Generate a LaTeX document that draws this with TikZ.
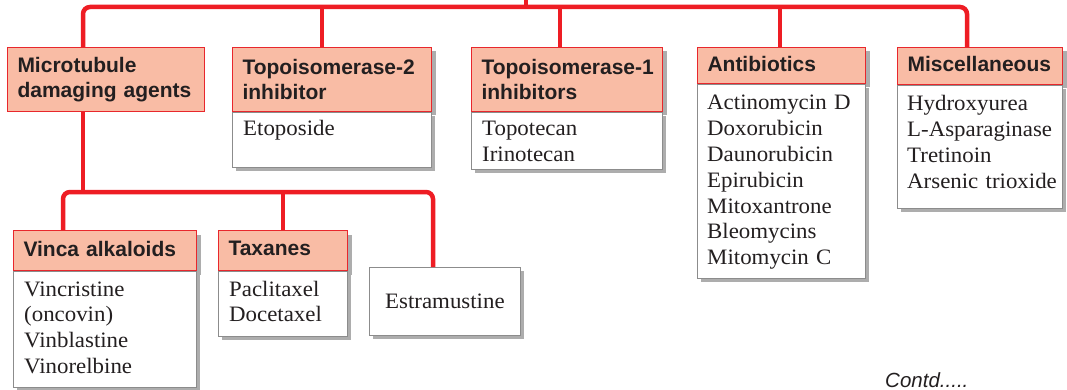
\documentclass[tikz,border=0pt]{standalone}
\usepackage{fontspec}
\setmainfont{Liberation Serif}[FakeStretch=1.04]
\newfontfamily\hdrfont{Liberation Sans}
\usetikzlibrary{shadows,calc}
\definecolor{hdrfill}{HTML}{F9BCA5}
\definecolor{hdrline}{HTML}{E8272C}
\definecolor{connred}{HTML}{EE1D24}
\definecolor{txt}{HTML}{231F20}
\tikzset{
  shad/.style={drop shadow={shadow xshift=4pt, shadow yshift=-4pt, fill=black!32, opacity=1}},
  hdr/.style={draw=hdrline, line width=1pt, fill=hdrfill, anchor=north west,
    inner xsep=0pt, inner ysep=0pt, align=left, text=txt,
    font=\hdrfont\bfseries\fontsize{21}{25}\selectfont,
    execute at begin node={\leftskip=10pt\relax\hyphenpenalty=10000\exhyphenpenalty=10000\relax}},
  onehdr/.style={hdr, text depth=4pt},
  bodybox/.style={draw=black!45, line width=0.8pt, fill=white, anchor=north west, inner sep=0pt},
  bodytext/.style={anchor=base west, inner sep=0pt, align=left, text width=170pt, text=txt,
    font=\fontsize{22}{25.8}\selectfont},
  conn/.style={draw=connred, line width=4.5pt, rounded corners=7pt}
}
\begin{document}
\begin{tikzpicture}[x=1pt,y=-1pt]
\useasboundingbox (0,0) rectangle (1067,390);

% top row
\node[hdr, text width=197pt, minimum height=64pt] (mt) at (7,47) {Microtubule\\damaging agents};

\node[hdr, shad, text width=199pt, minimum height=64pt] (t2) at (232,47) {Topoisomerase-2\\inhibitor};
\node[bodybox, shad, minimum width=199pt, minimum height=55pt] (t2b) at (t2.south west) {};
\node[bodytext] (t2t) at ($(t2b.north west)+(11,24)$) {Etoposide};

\node[hdr, shad, text width=191pt, minimum height=64pt] (t1) at (471,47) {Topoisomerase-1\\inhibitors};
\node[bodybox, shad, minimum width=191pt, minimum height=57pt] (t1b) at (t1.south west) {};
\node[bodytext] (t1t) at ($(t1b.north west)+(11,24)$) {Topotecan\\Irinotecan};

\node[onehdr, shad, text width=168pt, minimum height=36pt] (ab) at (697,47) {Antibiotics};
\node[bodybox, shad, minimum width=168pt, minimum height=194pt] (abb) at (ab.south west) {};
\node[bodytext] (abt) at ($(abb.north west)+(10,26)$) {Actinomycin D\\Doxorubicin\\Daunorubicin\\Epirubicin\\Mitoxantrone\\Bleomycins\\Mitomycin C};

\node[onehdr, shad, text width=165pt, minimum height=37pt] (ms) at (897,47) {Miscellaneous};
\node[bodybox, shad, minimum width=165pt, minimum height=123pt] (msb) at (ms.south west) {};
\node[bodytext] (mst) at ($(msb.north west)+(10,26)$) {Hydroxyurea\\L-Asparaginase\\Tretinoin\\Arsenic trioxide};

% bottom row
\node[onehdr, shad, text width=183pt, minimum height=40pt] (vh) at (13,230) {Vinca alkaloids};
\node[bodybox, shad, minimum width=183pt, minimum height=116pt] (vhb) at (vh.south west) {};
\node[bodytext] (vht) at ($(vhb.north west)+(11,25)$) {Vincristine\\(oncovin)\\Vinblastine\\Vinorelbine};

\node[onehdr, shad, text width=129pt, minimum height=40pt] (tx) at (218,230) {Taxanes};
\node[bodybox, shad, minimum width=129pt, minimum height=65pt] (txb) at (tx.south west) {};
\node[bodytext] (txt) at ($(txb.north west)+(11,25)$) {Paclitaxel\\Docetaxel};

\node[bodybox, shad, minimum width=151pt, minimum height=68pt] (es) at (369,267) {};
\node[bodytext] (est) at ($(es.north west)+(16,41)$) {Estramustine};

\node[anchor=base west, inner sep=0pt, text=txt, font=\hdrfont\itshape\fontsize{20.5}{22}\selectfont] (contd) at (885,387) {Contd.....};

% connectors
\coordinate (root) at (526,-3);
\draw[conn] (root) -- ++(0,10);
\draw[conn] ([xshift=76pt]mt.north west) -- ++(0,-40) -| ([xshift=70pt]ms.north west);
\draw[conn] ([xshift=90pt]t2.north west) -- ++(0,-40);
\draw[conn] ([xshift=89pt]t1.north west) -- ++(0,-40);
\draw[conn] ([xshift=83pt]ab.north west) -- ++(0,-40);

\draw[conn] ([xshift=76pt]mt.south west) -- ++(0,81);
\draw[conn] ([xshift=50pt]vh.north west) -- ++(0,-38) -| ([xshift=64pt]es.north west);
\draw[conn] ([xshift=65pt]tx.north west) -- ++(0,-38);
\end{tikzpicture}
\end{document}
